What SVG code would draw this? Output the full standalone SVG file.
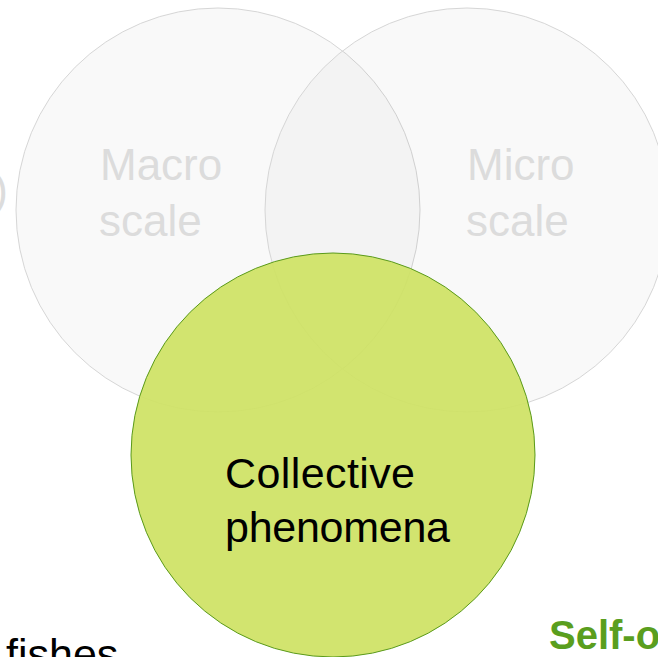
<svg xmlns="http://www.w3.org/2000/svg" width="658" height="657" viewBox="0 0 658 657">
<style>
.g{fill:#000;fill-opacity:0.022;stroke:#d6d6d6;stroke-width:1}
.gt{font-family:"Liberation Sans",Arial,sans-serif;font-size:44px;fill:#dcdcdc}
.bt{font-family:"Liberation Sans",Arial,sans-serif;font-size:43px;fill:#000}
</style>
<rect width="658" height="657" fill="#fff"/>
<text class="gt" x="8" y="205" text-anchor="end">)</text>
<g id="macro">
<circle class="g" cx="218" cy="210" r="202"/>
<text class="gt" x="100" y="180">Macro</text>
<text class="gt" x="99" y="236">scale</text>
</g>
<g id="micro">
<circle class="g" cx="467" cy="210" r="202"/>
<text class="gt" x="467" y="180">Micro</text>
<text class="gt" x="466" y="236">scale</text>
</g>
<g id="collective">
<circle cx="333" cy="455" r="202" fill="#cfe264" fill-opacity="0.93" stroke="#5a9a1a" stroke-width="1"/>
<text class="bt" x="225" y="488" textLength="190">Collective</text>
<text class="bt" x="225" y="542" textLength="225">phenomena</text>
</g>
<g id="connectors"/>
<text x="6" y="669" font-family="Liberation Sans,Arial,sans-serif" font-size="43px" fill="#000">fishes</text>
<text x="549" y="649" font-family="Liberation Sans,Arial,sans-serif" font-size="40px" font-weight="bold" fill="#5a9e1e">Self-o</text>
</svg>
